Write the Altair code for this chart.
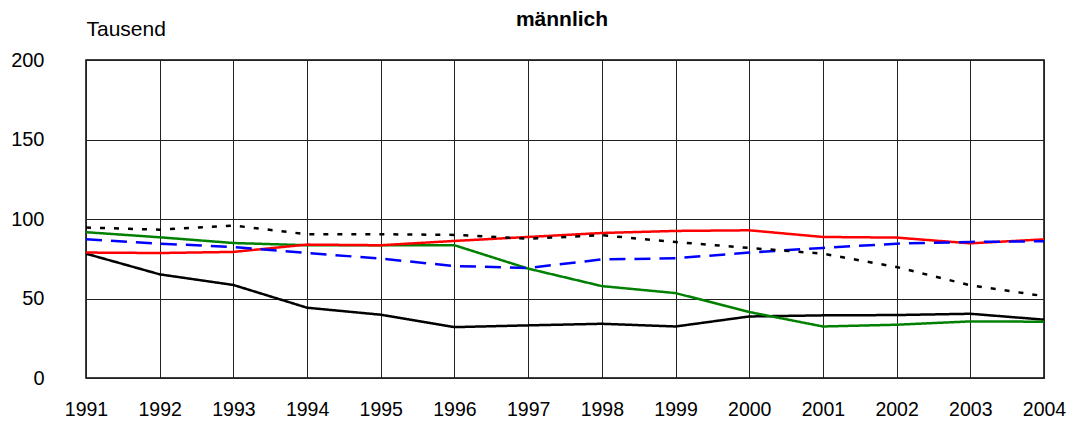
import altair as alt
import pandas as pd

# Jahre und Werte (Tausend)
years = list(range(1991, 2005))

series_names = ["Reihe 1", "Reihe 2", "Reihe 3", "Reihe 4", "Reihe 5"]
series_values = [
    # schwarz, durchgezogen
    [78.2, 65.2, 58.5, 44.2, 39.8, 32.0, 33.1, 34.1, 32.4, 38.7, 39.4, 39.6, 40.4, 36.7],
    # grün
    [91.7, 88.5, 84.9, 83.5, 83.5, 83.5, 68.8, 57.8, 53.4, 41.5, 32.4, 33.5, 35.6, 35.4],
    # rot
    [78.9, 78.6, 79.3, 83.9, 83.5, 86.2, 88.7, 91.2, 92.5, 92.9, 88.7, 88.3, 84.7, 87.2],
    # blau, gestrichelt
    [87.2, 84.5, 82.4, 78.6, 75.1, 70.4, 69.2, 74.6, 75.3, 78.9, 81.8, 84.5, 85.6, 86.0],
    # schwarz, gepunktet
    [94.6, 93.3, 95.9, 90.4, 90.4, 90.0, 87.6, 89.8, 85.5, 81.8, 78.2, 69.8, 58.3, 51.5],
]

colors = ["#000000", "#008000", "#ff0000", "#0000ff", "#000000"]
dashes = [[1, 0], [1, 0], [1, 0], [16, 9], [5, 9]]
widths = [2.5, 2.5, 3, 3, 3]

title_text = "männlich"

rows = []
for name, vals in zip(series_names, series_values):
    for year, v in zip(years, vals):
        rows.append({"Jahr": year, "Wert": v, "Reihe": name})
df = pd.DataFrame(rows)

lines = alt.Chart(df).mark_line().encode(
    x=alt.X("Jahr:Q",
            scale=alt.Scale(domain=[1991, 2004], nice=False, zero=False),
            axis=alt.Axis(values=years, format="d", title=None, grid=True,
                          ticks=False, domain=False, labelFontSize=19.5,
                          labelPadding=37, labelBaseline="alphabetic",
                          labelColor="#000", gridColor="#222", gridWidth=1,
                          labelFlush=False, labelOverlap=False)),
    y=alt.Y("Wert:Q",
            scale=alt.Scale(domain=[0, 200], nice=False),
            axis=alt.Axis(values=[0, 50, 100, 150, 200], title="Tausend",
                          titleAngle=0, titleAlign="left", titleBaseline="alphabetic",
                          titleX=0, titleY=-25, titleFontWeight="normal",
                          titleFontSize=21, titleColor="#000",
                          labelFontSize=20, labelPadding=42, labelColor="#000",
                          ticks=False, domain=False, grid=True,
                          gridColor="#222", gridWidth=1)),
    color=alt.Color("Reihe:N", scale=alt.Scale(domain=series_names, range=colors), legend=None),
    strokeDash=alt.StrokeDash("Reihe:N", scale=alt.Scale(domain=series_names, range=dashes), legend=None),
    strokeWidth=alt.StrokeWidth("Reihe:N", scale=alt.Scale(domain=series_names, range=widths), legend=None),
)

# Überschrift über der Zeichenfläche
title = alt.Chart(pd.DataFrame({"t": [title_text]})).mark_text(
    fontSize=21, fontWeight="bold", color="#000", align="center",
    baseline="alphabetic",
).encode(
    text="t:N",
    x=alt.value(476),
    y=alt.value(-34),
)

chart = alt.layer(lines, title).properties(
    width=958,
    height=318,
    autosize=alt.AutoSizeParams(type="none"),
    padding={"left": 78, "top": 52, "right": 22, "bottom": 41},
).configure(
    font="Liberation Sans",
).configure_view(
    stroke="#000", strokeWidth=1.5,
)

chart.save("out.html", embed_options={"renderer": "svg", "actions": False})
